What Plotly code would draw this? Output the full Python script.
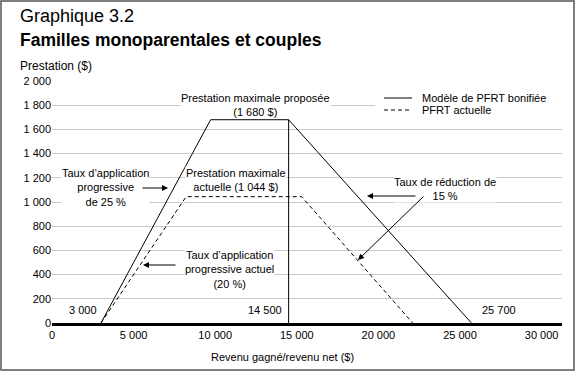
import plotly.graph_objects as go

# Data
proposed_x = [3000, 9720, 14500, 25700]
proposed_y = [0, 1680, 1680, 0]
current_x = [3000, 8220, 15300, 22100]
current_y = [0, 1044, 1044, 0]
marker_x = [14500, 14500]
marker_y = [0, 1680]
x_ticks = [0, 5000, 10000, 15000, 20000, 25000, 30000]
y_ticks = [0, 200, 400, 600, 800, 1000, 1200, 1400, 1600, 1800, 2000]
series_names = ["Modèle de PFRT bonifiée", "PFRT actuelle"]

FONT = "Liberation Sans, Arial, Helvetica, sans-serif"
DASH = "4px,3px"

fig = go.Figure()
fig.add_trace(go.Scatter(x=proposed_x, y=proposed_y, mode="lines", name=series_names[0],
                         showlegend=False, line=dict(color="black", width=1)))
fig.add_trace(go.Scatter(x=current_x, y=current_y, mode="lines", name=series_names[1],
                         showlegend=False, line=dict(color="black", width=1, dash=DASH)))
fig.add_trace(go.Scatter(x=marker_x, y=marker_y, mode="lines", showlegend=False,
                         line=dict(color="black", width=1)))

def px2x(px):
    return (px - 52) / 16.32 * 1000

def py2y(py):
    return (323 - py) / 0.121

def pxp(px):
    return (px - 52) / 510

def pyp(py):
    return (323 - py) / 242

ann = []
def txt(text, px, py, xanchor="center"):
    ann.append(dict(text=text, x=px2x(px), y=py2y(py), xref="x", yref="y", showarrow=False,
                    xanchor=xanchor, yanchor="middle", bgcolor="white", borderpad=0,
                    font=dict(size=11, color="black", family=FONT), align="center"))

def arrow(px0, py0, px1, py1):
    ann.append(dict(text="", x=px2x(px1), y=py2y(py1), ax=px2x(px0), ay=py2y(py0),
                    xref="x", yref="y", axref="x", ayref="y", showarrow=True,
                    arrowhead=2, arrowsize=1.2, arrowwidth=1, arrowcolor="black"))

txt("Prestation maximale proposée<br>(1 680 $)", 255, 104.5)
txt("Prestation maximale<br>actuelle (1 044 $)", 236, 179.5)
txt("Taux d’application<br>progressive<br>de 25 %", 105, 187)
txt("Taux d’application<br>progressive actuel<br>(20 %)", 229, 269)
txt("Taux de réduction de<br>15 %", 445, 189)
arrow(141, 188, 168, 188)
arrow(177, 265, 143, 265)
arrow(417, 196, 367, 196)
arrow(425, 195, 358, 260)

for t, px in [("3 000", 83), ("14 500", 265), ("25 700", 499)]:
    ann.append(dict(text=t, x=px2x(px), y=py2y(310), xref="x", yref="y", showarrow=False,
                    xanchor="center", yanchor="middle",
                    font=dict(size=11, color="black", family=FONT)))

# Legend (drawn manually for compact spacing)
for name, py in zip(series_names, [98, 110]):
    ann.append(dict(text=name, x=pxp(420), y=pyp(py), xref="paper", yref="paper",
                    showarrow=False, xanchor="left", yanchor="middle",
                    font=dict(size=11, color="black", family=FONT)))

ann.append(dict(text="Graphique 3.2", x=pxp(18), y=pyp(16), xref="paper", yref="paper",
                showarrow=False, xanchor="left", yanchor="middle",
                font=dict(size=18, color="black", family=FONT)))
ann.append(dict(text="<b>Familles monoparentales et couples</b>", x=pxp(18), y=pyp(40),
                xref="paper", yref="paper", showarrow=False, xanchor="left", yanchor="middle",
                font=dict(size=17.5, color="black", family=FONT)))
ann.append(dict(text="Prestation ($)", x=pxp(18), y=pyp(66), xref="paper", yref="paper",
                showarrow=False, xanchor="left", yanchor="middle",
                font=dict(size=12, color="black", family=FONT)))
ann.append(dict(text="Revenu gagné/revenu net ($)", x=pxp(282), y=pyp(357), xref="paper",
                yref="paper", showarrow=False, xanchor="center", yanchor="middle",
                font=dict(size=11, color="black", family=FONT)))

shapes = [
    dict(type="rect", xref="paper", yref="paper", x0=pxp(375), x1=pxp(562),
         y0=pyp(117), y1=pyp(90), line=dict(width=0), fillcolor="white", layer="above"),
    dict(type="line", xref="paper", yref="paper", x0=pxp(384), x1=pxp(412),
         y0=pyp(98), y1=pyp(98), line=dict(color="black", width=1), layer="above"),
    dict(type="line", xref="paper", yref="paper", x0=pxp(384), x1=pxp(412),
         y0=pyp(110), y1=pyp(110), line=dict(color="black", width=1, dash=DASH),
         layer="above"),
    dict(type="rect", xref="paper", yref="paper", x0=pxp(1), x1=pxp(574),
         y0=pyp(370), y1=pyp(1), line=dict(color="#555555", width=1.5),
         fillcolor="rgba(0,0,0,0)", layer="above"),
]

fig.update_layout(
    width=575, height=371,
    margin=dict(l=52, r=13, t=81, b=48),
    paper_bgcolor="white", plot_bgcolor="white",
    separators=", ",
    font=dict(family=FONT, size=11, color="black"),
    annotations=ann,
    shapes=shapes,
    showlegend=False,
    xaxis=dict(range=[0, 31250], tickvals=x_ticks, tickformat=",d", showgrid=False,
               zeroline=False, showline=True, linecolor="black", linewidth=3,
               ticks="", tickfont=dict(size=11)),
    yaxis=dict(range=[0, 2000], tickvals=y_ticks, tickformat=",d", showgrid=True,
               gridcolor="#c8c8c8", gridwidth=1, zeroline=False, showline=False,
               ticks="", tickfont=dict(size=11)),
)

fig.write_html("out.html", config={"displayModeBar": False},
               post_script="document.body.style.margin='0';document.body.style.padding='0';document.body.style.overflow='hidden';")
